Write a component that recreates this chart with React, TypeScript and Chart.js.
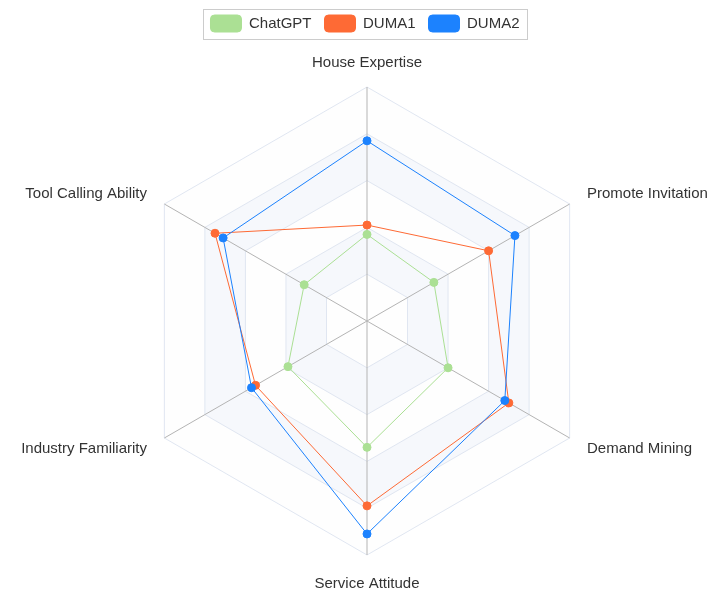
import React, { useEffect, useRef } from 'react';
import { Chart, registerables } from 'chart.js';

Chart.register(...registerables);

// ---- data ----
const categories = [
  'House Expertise',
  'Promote Invitation',
  'Demand Mining',
  'Service Attitude',
  'Industry Familiarity',
  'Tool Calling Ability',
];
const seriesNames = ['ChatGPT', 'DUMA1', 'DUMA2'];
const chatgptValues = [37, 33, 40, 54, 39, 31];
const duma1Values = [41, 60, 70, 79, 55, 75];
const duma2Values = [77, 73, 68, 91, 57, 71];
const scaleMin = 0;
const scaleMax = 100;
const scaleStep = 20;

// ---- styles ----
const FONT = '"Liberation Sans", Arial, Helvetica, sans-serif';
const seriesColors = ['#abe094', '#fe6a35', '#1c82fe'];
const bandColors = ['rgb(254,254,254)', 'rgb(246,248,252)'];
const labelPadding = [8, 20, 20, 28, 20, 20];
const labelLineHeight = ['32px', '1px', '1px', '1px', '1px', '1px'];

const splitAreaPlugin = {
  id: 'splitArea',
  beforeDraw(chart: any) {
    const scale = chart.scales.r;
    if (!scale) return;
    const ctx = chart.ctx;
    const n = categories.length;
    const levels = Math.round((scaleMax - scaleMin) / scaleStep);
    ctx.save();
    for (let k = levels; k >= 1; k--) {
      const v = scaleMin + k * scaleStep;
      ctx.beginPath();
      for (let i = 0; i < n; i++) {
        const p = scale.getPointPositionForValue(i, v);
        if (i === 0) ctx.moveTo(p.x, p.y);
        else ctx.lineTo(p.x, p.y);
      }
      ctx.closePath();
      ctx.fillStyle = bandColors[(k - 1) % 2];
      ctx.fill();
    }
    ctx.restore();
  },
};

const legendBorderPlugin = {
  id: 'legendBorder',
  afterDraw(chart: any) {
    const legend = chart.legend;
    if (!legend || !legend.legendHitBoxes || !legend.legendHitBoxes.length) return;
    const hb = legend.legendHitBoxes;
    const first = hb[0];
    const last = hb[hb.length - 1];
    const left = first.left - 7;
    const right = last.left + last.width + 8;
    const top = first.top - 6;
    const bottom = first.top + first.height + 7;
    const ctx = chart.ctx;
    ctx.save();
    ctx.strokeStyle = '#cccccc';
    ctx.lineWidth = 1;
    ctx.strokeRect(Math.round(left) + 0.5, Math.round(top) + 0.5, Math.round(right - left), Math.round(bottom - top));
    ctx.restore();
  },
};

export default function App() {
  const canvasRef = useRef<HTMLCanvasElement | null>(null);

  useEffect(() => {
    const canvas = canvasRef.current;
    if (!canvas) return;
    const valueSets = [chatgptValues, duma1Values, duma2Values];
    const chart = new Chart(canvas, {
      type: 'radar',
      data: {
        labels: categories,
        datasets: seriesNames.map((name, i) => ({
          label: name,
          data: valueSets[i],
          borderColor: seriesColors[i],
          backgroundColor: seriesColors[i],
          pointBackgroundColor: seriesColors[i],
          pointBorderColor: seriesColors[i],
          pointRadius: 4,
          pointBorderWidth: 1,
          pointHoverRadius: 4,
          borderWidth: 1,
          fill: false,
          tension: 0,
          order: seriesNames.length - 1 - i,
        })),
      },
      options: {
        responsive: false,
        animation: false,
        layout: { padding: { top: 2, left: 5, right: 0, bottom: 8 } },
        plugins: {
          legend: {
            position: 'top',
            labels: {
              boxWidth: 31,
              boxHeight: 17,
              useBorderRadius: true,
              borderRadius: 4,
              padding: 13,
              color: '#333333',
              font: { family: FONT, size: 15 },
              sort: (a: any, b: any) => a.datasetIndex - b.datasetIndex,
            },
          },
          tooltip: { enabled: false },
        },
        scales: {
          r: {
            min: scaleMin,
            max: scaleMax,
            ticks: { display: false, stepSize: scaleStep },
            grid: { color: '#e0e6f1', circular: false, lineWidth: 1 },
            angleLines: { color: '#b4b4b4', lineWidth: 1 },
            pointLabels: {
              color: '#333333',
              padding: (c: any) => labelPadding[c.index],
              font: (c: any) => ({ family: FONT, size: 15, lineHeight: labelLineHeight[c.index] }),
            },
          },
        },
      } as any,
      plugins: [splitAreaPlugin, legendBorderPlugin],
    });
    return () => chart.destroy();
  }, []);

  return (
    <div style={{ position: 'fixed', left: 0, top: 0, width: 725, height: 598, background: '#ffffff' }}>
      <canvas ref={canvasRef} width={725} height={598} style={{ display: 'block' }} />
    </div>
  );
}
